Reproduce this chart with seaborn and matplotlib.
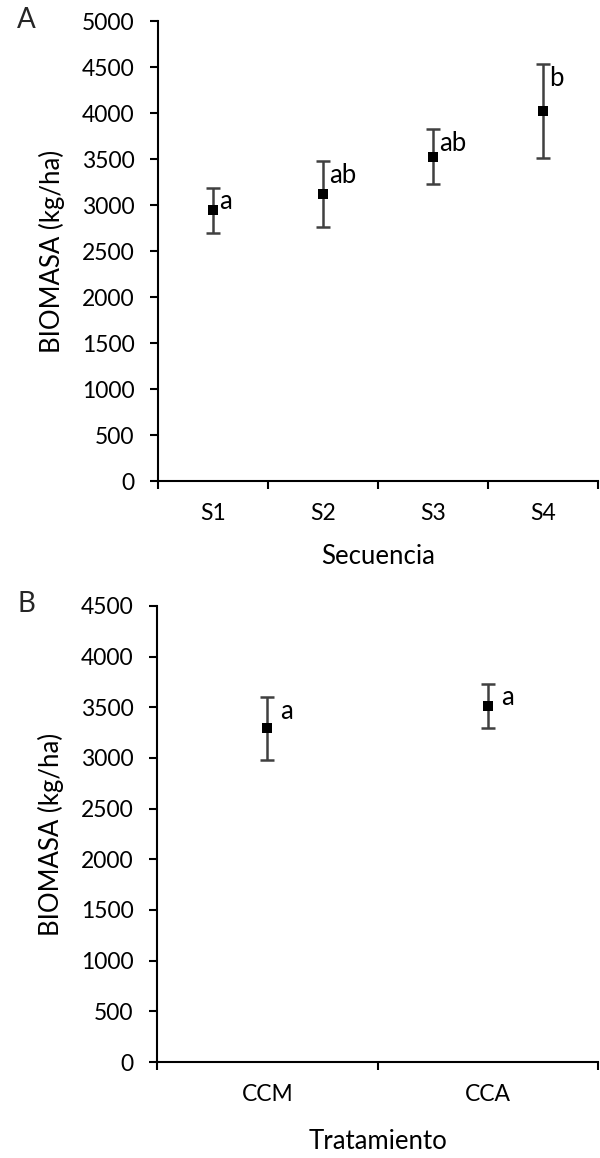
import matplotlib
matplotlib.use("Agg")
import matplotlib.pyplot as plt
import seaborn as sns
import pandas as pd
from matplotlib.ticker import FixedLocator

# Panel A data
sec_cats = ["S1", "S2", "S3", "S4"]
sec_mean = [2945, 3120, 3525, 4022]
sec_err = [245, 360, 300, 511]
sec_letters = ["a", "ab", "ab", "b"]

# Panel B data
tra_cats = ["CCM", "CCA"]
tra_mean = [3295, 3515]
tra_err = [310, 220]
tra_letters = ["a", "a"]

sns.set_theme(style="white")
plt.rcParams["font.family"] = ["Lato", "DejaVu Sans"]

fig = plt.figure(figsize=(6.0, 11.58), dpi=100)
axA = fig.add_axes([0.2633, 0.5846, 0.733, 0.3972])
axB = fig.add_axes([0.2617, 0.0829, 0.735, 0.3938])

TICK_FS = 16.5
LAB_FS = 18.5
ERR_C = "#404040"


def draw(ax, cats, means, errs, letters, ymax, xlabel, xlabelpad):
    df = pd.DataFrame({"cat": cats, "mean": means})
    n = len(cats)
    xs = list(range(n))
    ax.errorbar(xs, means, yerr=errs, fmt="none", ecolor=ERR_C,
                elinewidth=1.8, capsize=4.8, capthick=1.8, zorder=2)
    sns.scatterplot(data=df, x="cat", y="mean", marker="s", color="black",
                    s=42, edgecolor="black", linewidth=0, zorder=3, ax=ax)
    for x, m, e, t in zip(xs, means, errs, letters):
        ax.text(x + 0.06, m + e - ymax * 0.004, t, ha="left", va="top",
                fontsize=LAB_FS, color="black")
    ax.set_xlim(-0.5, n - 0.5)
    ax.set_ylim(0, ymax)
    ax.set_yticks(range(0, ymax + 1, 500))
    ax.set_xticks(xs)
    ax.set_xticklabels(cats)
    ax.xaxis.set_minor_locator(FixedLocator([i - 0.5 for i in range(n + 1)]))
    ax.tick_params(axis="x", which="major", length=0, pad=16,
                   labelsize=TICK_FS, colors="black")
    ax.tick_params(axis="x", which="minor", bottom=True, length=6, width=1.5,
                   direction="out", color="black")
    ax.tick_params(axis="y", which="major", left=True, length=6, width=1.5,
                   direction="out", labelsize=TICK_FS, pad=11, color="black",
                   labelcolor="black")
    for s in ["top", "right"]:
        ax.spines[s].set_visible(False)
    for s in ["left", "bottom"]:
        ax.spines[s].set_color("black")
        ax.spines[s].set_linewidth(1.5)
    ax.set_xlabel(xlabel, fontsize=LAB_FS, labelpad=xlabelpad, color="black")
    ax.set_ylabel("BIOMASA (kg/ha)", fontsize=LAB_FS, labelpad=12, color="black")
    ax.grid(False)


draw(axA, sec_cats, sec_mean, sec_err, sec_letters, 5000, "Secuencia", 14)
draw(axB, tra_cats, tra_mean, tra_err, tra_letters, 4500, "Tratamiento", 17)

fig.text(17 / 600, 1 - 20 / 1158, "A", fontsize=20, ha="left", va="center")
fig.text(17 / 600, 1 - 604 / 1158, "B", fontsize=20, ha="left", va="center")

fig.savefig("out.png", dpi=100, facecolor="white")
